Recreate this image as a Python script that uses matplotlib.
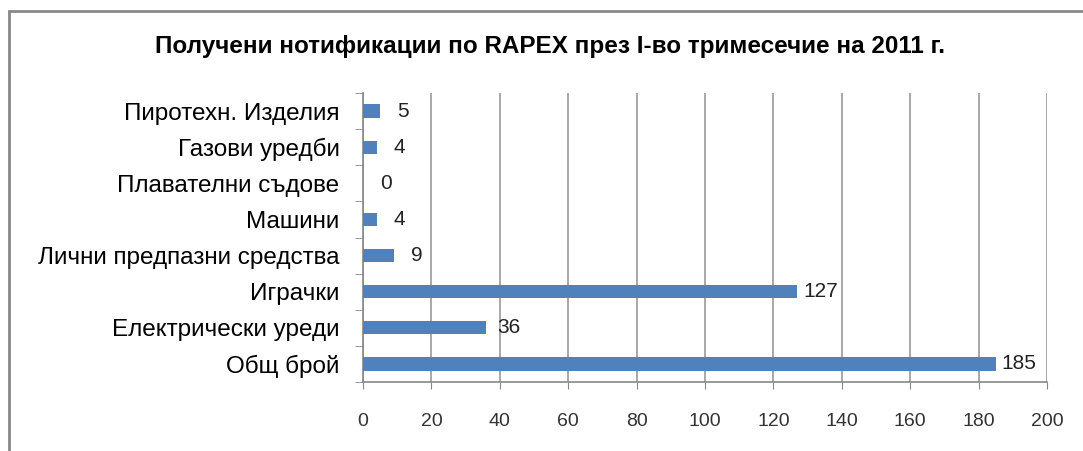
import matplotlib
matplotlib.use("Agg")
import matplotlib.pyplot as plt
from matplotlib.patches import Rectangle
import numpy as np

plt.rcParams['font.family'] = ['Liberation Sans', 'DejaVu Sans']

categories = ["Пиротехн. Изделия", "Газови уредби", "Плавателни съдове", "Машини",
              "Лични предпазни средства", "Играчки", "Електрически уреди", "Общ брой"]
values = [5, 4, 0, 4, 9, 127, 36, 185]
xticks = list(range(0, 201, 20))
title = "Получени нотификации по RAPEX през I-во тримесечие на 2011 г."

W, H = 1083, 451
fig = plt.figure(figsize=(W / 100, H / 100), dpi=100)
ax = fig.add_axes([363 / W, 1 - 382 / H, (1047 - 363) / W, (382 - 93) / H])

y = np.arange(len(categories))
ax.barh(y, values, height=0.37, color="#4F81BD", zorder=3)
ax.set_ylim(len(categories) - 0.5, -0.5)
ax.set_xlim(0, 200)

for yi, v in zip(y, values):
    ax.annotate(str(v), (v, yi), xytext=(16.5, 0), textcoords="offset points",
                va="center", ha="center", fontsize=15, color="#222222")

ax.set_yticks(y)
ax.set_yticklabels(categories, fontsize=17.5, color="#000000")
ax.set_yticks(np.arange(len(categories) + 1) - 0.5, minor=True)
ax.tick_params(axis="y", which="major", length=0, pad=17)
ax.tick_params(axis="y", which="minor", length=6, color="#888888", direction="out")

ax.set_xticks(xticks)
ax.set_xticklabels([str(t) for t in xticks], fontsize=14, color="#333333")
ax.tick_params(axis="x", length=5, color="#888888", direction="out", pad=17)

ax.grid(axis="x", color="#999999", linewidth=1.2, zorder=0)
for s in ["top", "right"]:
    ax.spines[s].set_visible(False)
for s in ["left", "bottom"]:
    ax.spines[s].set_color("#888888")
    ax.spines[s].set_linewidth(1.2)

fig.text(550 / W, 1 - 47 / H, title, ha="center", va="center",
         fontsize=17.5, fontweight="bold", color="#000000")

fig.patches.append(Rectangle((9 / W, -0.1), 1.2, 1 - 11 / H + 0.1, transform=fig.transFigure,
                             fill=False, edgecolor="#888888", linewidth=2))

fig.savefig("out.png", dpi=100)
